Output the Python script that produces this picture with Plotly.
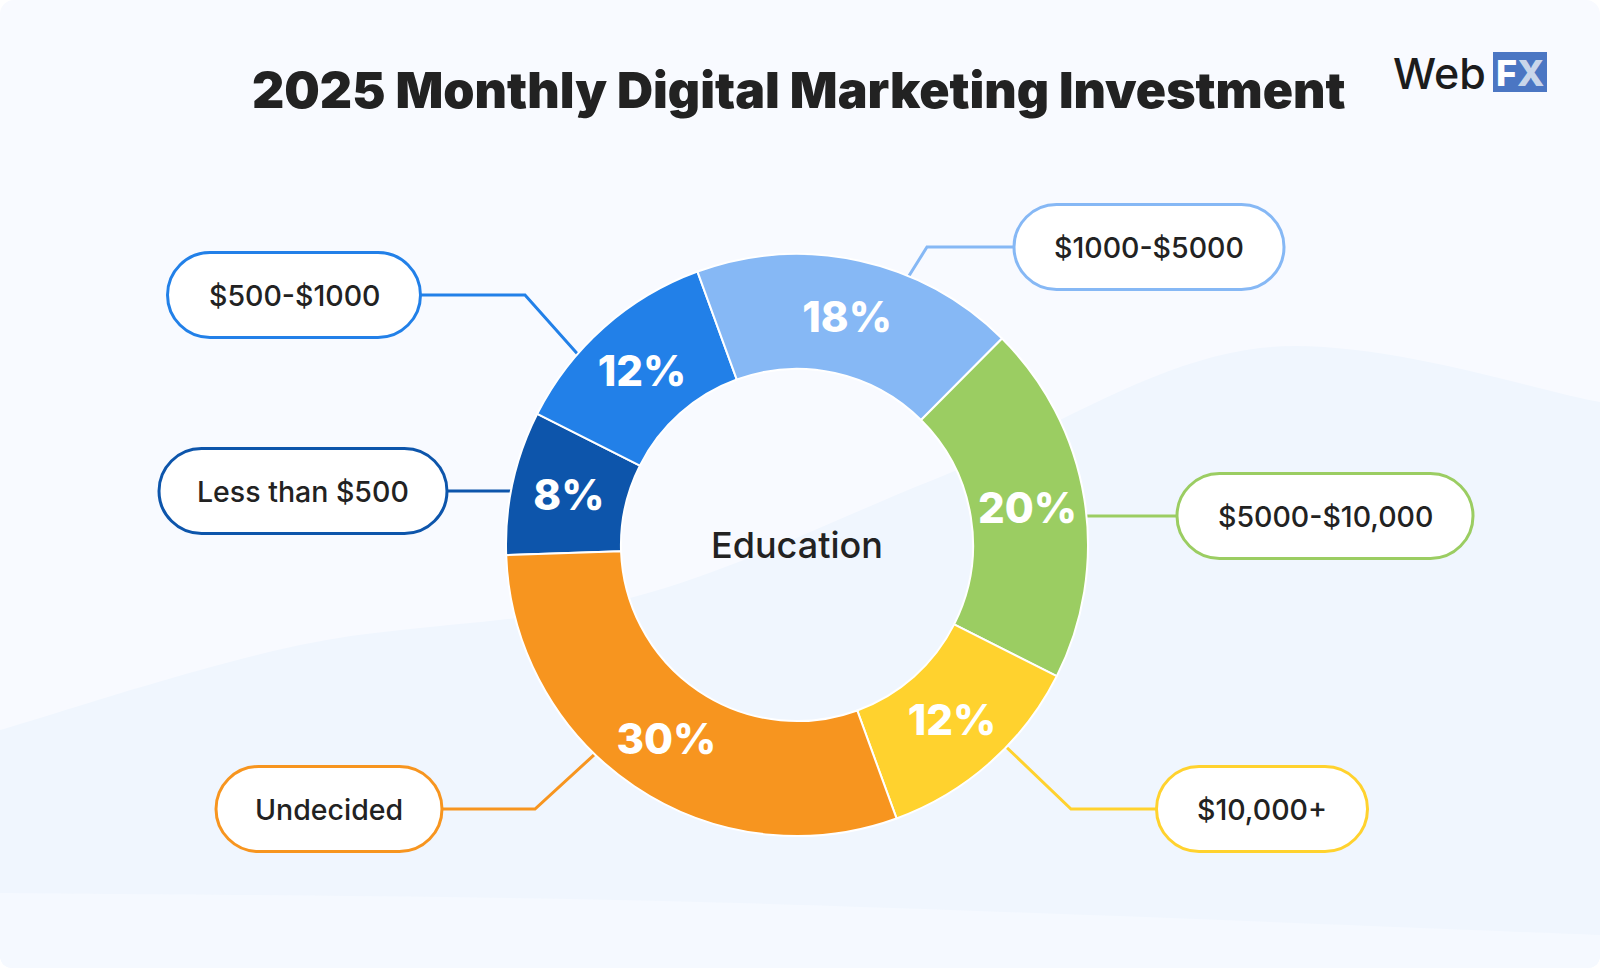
import math
import plotly.graph_objects as go

# ---------------- data ----------------
categories = ["Less than $500", "$500-$1000", "$1000-$5000",
              "$5000-$10,000", "$10,000+", "Undecided"]
shares = [8, 12, 18, 20, 12, 30]
center_label = "Education"
title_text = "2025 Monthly Digital Marketing Investment"

# ---------------- style / layout ----------------
W, H = 1600, 968
slice_colors = ["#0d55ab", "#2280e8", "#86b8f5", "#9bcd62", "#ffd22e", "#f7951f"]
PIE_CX, PIE_CY, PIE_R = 797, 545, 291
HOLE = 0.605
FONT = "Inter"

# callout layout: pill centre, pill width, elbow x (None = straight), anchor angle (deg, clockwise from 12)
callouts = {
    "Less than $500": dict(cx=303, cy=491, w=288, elbow=None, ang=None),
    "$500-$1000": dict(cx=294, cy=295, w=253, elbow=525, ang=311),
    "$1000-$5000": dict(cx=1149, cy=247, w=270, elbow=927, ang=22.5),
    "$5000-$10,000": dict(cx=1325, cy=516, w=296, elbow=None, ang=None),
    "$10,000+": dict(cx=1262, cy=809, w=211, elbow=1071, ang=134),
    "Undecided": dict(cx=329, cy=809, w=226, elbow=535, ang=224),
}
PILL_H = 85


def px(x):
    return x / W


def py(y):
    return 1 - y / H


def P(x, y):
    return f"{px(x):.5f},{py(y):.5f}"


def rounded_rect_path(x0, y0, x1, y1, r):
    k = 0.5523 * r
    return (f"M {P(x0 + r, y0)} L {P(x1 - r, y0)} "
            f"C {P(x1 - r + k, y0)} {P(x1, y0 + r - k)} {P(x1, y0 + r)} "
            f"L {P(x1, y1 - r)} "
            f"C {P(x1, y1 - r + k)} {P(x1 - r + k, y1)} {P(x1 - r, y1)} "
            f"L {P(x0 + r, y1)} "
            f"C {P(x0 + r - k, y1)} {P(x0, y1 - r + k)} {P(x0, y1 - r)} "
            f"L {P(x0, y0 + r)} "
            f"C {P(x0, y0 + r - k)} {P(x0 + r - k, y0)} {P(x0 + r, y0)} Z")


def smooth_path(points):
    # Catmull-Rom -> cubic bezier
    s = f"M {P(*points[0])} "
    for i in range(len(points) - 1):
        p0 = points[i - 1] if i > 0 else points[i]
        p1 = points[i]
        p2 = points[i + 1]
        p3 = points[i + 2] if i + 2 < len(points) else points[i + 1]
        c1 = (p1[0] + (p2[0] - p0[0]) / 6, p1[1] + (p2[1] - p0[1]) / 6)
        c2 = (p2[0] - (p3[0] - p1[0]) / 6, p2[1] - (p3[1] - p1[1]) / 6)
        s += f"C {P(*c1)} {P(*c2)} {P(*p2)} "
    return s


shapes = []
# card background
CR = 14
shapes.append(dict(type="path", path=rounded_rect_path(0, 0, W, H, CR),
                   fillcolor="#f8faff", line=dict(width=0), layer="below"))
# soft wave
wave_pts = [(0, 730), (300, 645), (630, 598), (933, 480), (1260, 348), (1600, 402)]
wave = smooth_path(wave_pts)
wave += (f"L {P(W, H - CR)} Q {P(W, H)} {P(W - CR, H)} L {P(CR, H)} "
         f"Q {P(0, H)} {P(0, H - CR)} Z")
shapes.append(dict(type="path", path=wave, fillcolor="#f0f6fe",
                   line=dict(width=0), layer="below"))
band_pts = [(0, 893), (700, 902), (1600, 935)]
band = smooth_path(band_pts)
band += (f"L {P(W, H - CR)} Q {P(W, H)} {P(W - CR, H)} L {P(CR, H)} "
         f"Q {P(0, H)} {P(0, H - CR)} Z")
shapes.append(dict(type="path", path=band, fillcolor="#f5f9ff",
                   line=dict(width=0), layer="below"))

annotations = []
for cat, col in zip(categories, slice_colors):
    c = callouts[cat]
    x0, x1 = c["cx"] - c["w"] / 2, c["cx"] + c["w"] / 2
    y0, y1 = c["cy"] - PILL_H / 2, c["cy"] + PILL_H / 2
    left_side = c["cx"] < PIE_CX
    start_x = x1 if left_side else x0
    if c["elbow"] is None:
        dy = c["cy"] - PIE_CY
        dx = math.sqrt(PIE_R ** 2 - dy ** 2) - 2
        end = (PIE_CX - dx if left_side else PIE_CX + dx, c["cy"])
        path = f"M {P(start_x, c['cy'])} L {P(*end)}"
    else:
        a = math.radians(c["ang"])
        end = (PIE_CX + (PIE_R - 2) * math.sin(a), PIE_CY - (PIE_R - 2) * math.cos(a))
        path = f"M {P(start_x, c['cy'])} L {P(c['elbow'], c['cy'])} L {P(*end)}"
    shapes.append(dict(type="path", path=path, line=dict(color=col, width=3),
                       layer="below"))
    shapes.append(dict(type="path", path=rounded_rect_path(x0, y0, x1, y1, PILL_H / 2),
                       fillcolor="white", line=dict(color=col, width=3), layer="above"))
    annotations.append(dict(x=px(c["cx"]), y=py(c["cy"]), xref="paper", yref="paper",
                            text=cat, showarrow=False,
                            font=dict(family=FONT, size=28.5, color="#222222", weight=500),
                            xanchor="center", yanchor="middle"))

# title
annotations.append(dict(x=px(798), y=py(90), xref="paper", yref="paper",
                        text=title_text, showarrow=False,
                        font=dict(family=FONT, size=50, color="#222222", weight=900),
                        xanchor="center", yanchor="middle"))
# centre label
annotations.append(dict(x=px(PIE_CX), y=py(PIE_CY), xref="paper", yref="paper",
                        text=center_label, showarrow=False,
                        font=dict(family=FONT, size=36, color="#222222", weight=500),
                        xanchor="center", yanchor="middle"))
# logo
annotations.append(dict(x=px(1488), y=py(73), xref="paper", yref="paper",
                        text="Web", showarrow=False,
                        font=dict(family=FONT, size=43, color="#1c1c1c", weight=500),
                        xanchor="right", yanchor="middle"))
shapes.append(dict(type="rect", x0=px(1493), x1=px(1547), y0=py(92), y1=py(52),
                   xref="paper", yref="paper", fillcolor="#4b76c3",
                   line=dict(width=0), layer="above"))
annotations.append(dict(x=px(1520), y=py(73), xref="paper", yref="paper",
                        text="F<span style='color:#c9d6ea'>X</span>", showarrow=False,
                        font=dict(family=FONT, size=36, color="white", weight=800),
                        xanchor="center", yanchor="middle"))

fig = go.Figure(go.Pie(
    labels=categories,
    values=shares,
    sort=False,
    direction="clockwise",
    rotation=268,
    hole=HOLE,
    marker=dict(colors=slice_colors, line=dict(color="white", width=2)),
    texttemplate="%{value}%",
    textposition="inside",
    insidetextorientation="horizontal",
    insidetextfont=dict(family=FONT, size=42, color="white", weight=800),
    hoverinfo="skip",
    showlegend=False,
    domain=dict(x=[px(PIE_CX - PIE_R), px(PIE_CX + PIE_R)],
                y=[py(PIE_CY + PIE_R), py(PIE_CY - PIE_R)]),
))

fig.update_layout(
    width=W, height=H,
    margin=dict(l=0, r=0, t=0, b=0),
    paper_bgcolor="white",
    plot_bgcolor="white",
    shapes=shapes,
    annotations=annotations,
    showlegend=False,
)

fig.write_html("out.html", config={"displayModeBar": False},
               post_script="document.body.style.margin='0';document.body.style.overflow='hidden';")
